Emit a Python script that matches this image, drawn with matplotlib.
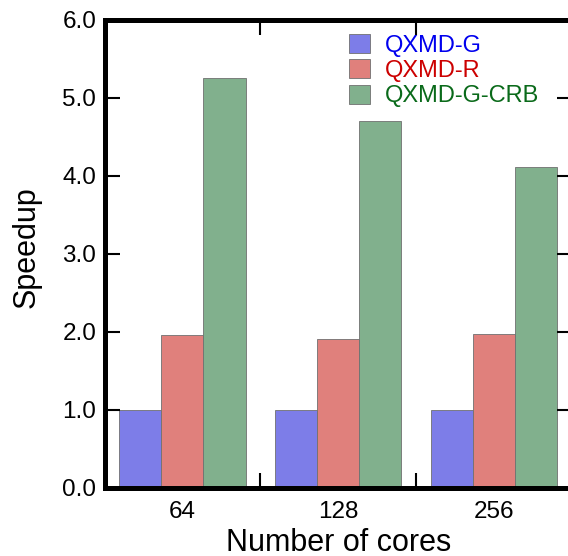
import matplotlib.pyplot as plt
import numpy as np

plt.rcParams['font.family'] = ['Liberation Sans', 'DejaVu Sans']

cores = ['64', '128', '256']
qxmd_g = [1.0, 1.0, 1.0]
qxmd_r = [1.95, 1.90, 1.97]
qxmd_g_crb = [5.25, 4.70, 4.11]

labels = ['QXMD-G', 'QXMD-R', 'QXMD-G-CRB']
fills = ['#7d7de8', '#e0807c', '#81b08d']
text_cols = ['#0000ee', '#cc0000', '#0a6a1a']

fig = plt.figure(figsize=(5.68, 5.56), dpi=100)
ax = fig.add_axes([104.5/568, 1 - 487.5/556, (572 - 104.5)/568, 468/556])

x = np.arange(len(cores))
w = 0.27
for i, vals in enumerate([qxmd_g, qxmd_r, qxmd_g_crb]):
    ax.bar(x + (i - 1) * w, vals, w, color=fills[i], edgecolor='#707070',
           linewidth=0.6, label=labels[i])

ax.set_xlim(-0.5, 2.5)
ax.set_ylim(0, 6)
ax.set_yticks(np.arange(0, 7, 1))
ax.set_yticklabels(['%.1f' % v for v in range(7)])
ax.set_xticks(x)
ax.set_xticklabels(cores)
ax.set_xticks([0.5, 1.5], minor=True)

for s in ax.spines.values():
    s.set_linewidth(3.6)

ax.tick_params(axis='x', which='major', length=0, labelsize=17.5, pad=10)
ax.tick_params(axis='x', which='minor', direction='in', length=10.5, width=1.5,
               top=True, bottom=True)
ax.tick_params(axis='y', direction='in', length=10.5, width=1.5, labelsize=17.5,
               left=True, right=True, pad=6)

ax.set_xlabel('Number of cores', fontsize=22, labelpad=3.5)
ax.set_ylabel('Speedup', fontsize=22)
ax.yaxis.set_label_coords(-0.134, 0.513)

leg = fig.legend(loc='upper left', bbox_to_anchor=(349/568, 1 - 34/556),
                 frameon=False, fontsize=17, handlelength=0.9, handleheight=0.85,
                 handletextpad=0.6, labelspacing=0.12, borderpad=0, borderaxespad=0)
for t, c in zip(leg.get_texts(), text_cols):
    t.set_color(c)

fig.savefig('out.png', dpi=100)
